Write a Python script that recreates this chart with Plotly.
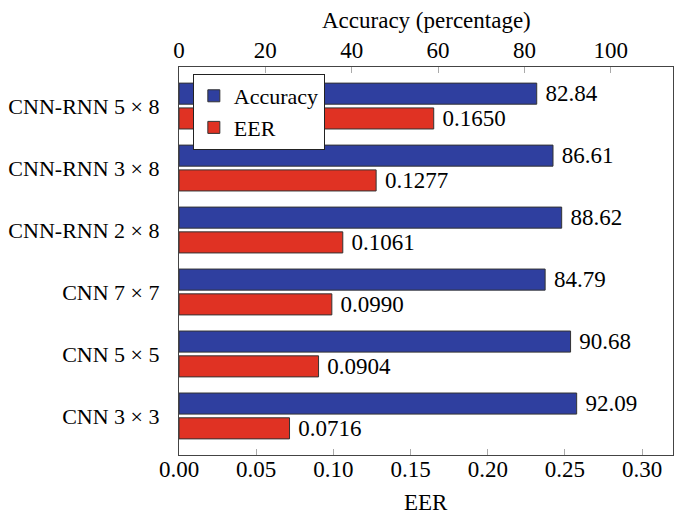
import plotly.graph_objects as go

models = ["CNN-RNN 5 × 8", "CNN-RNN 3 × 8", "CNN-RNN 2 × 8", "CNN 7 × 7", "CNN 5 × 5", "CNN 3 × 3"]
accuracy = [82.84, 86.61, 88.62, 84.79, 90.68, 92.09]
eer = [0.1650, 0.1277, 0.1061, 0.0990, 0.0904, 0.0716]
acc_ticks = [0, 20, 40, 60, 80, 100]
eer_ticks = [0.00, 0.05, 0.10, 0.15, 0.20, 0.25, 0.30]
acc_title = "Accuracy (percentage)"
eer_title = "EER"

pos = list(range(len(models)))
FONT = "Liberation Serif, Times New Roman, serif"
FS = 23
BLUE = "#2f3f9f"
RED = "#e03223"
EDGE = "#333333"

fig = go.Figure()
fig.add_trace(go.Bar(
    y=pos, x=accuracy, orientation="h", name="Accuracy", xaxis="x2",
    width=0.34, offset=-0.37,
    marker=dict(color=BLUE, line=dict(color=EDGE, width=1)),
    text=[" %.2f" % v for v in accuracy], textposition="outside",
    constraintext="none",
    textfont=dict(family=FONT, size=FS, color="black"), cliponaxis=False,
))
fig.add_trace(go.Bar(
    y=pos, x=eer, orientation="h", name="EER", xaxis="x",
    width=0.34, offset=0.03,
    marker=dict(color=RED, line=dict(color=EDGE, width=1)),
    text=[" %.4f" % v for v in eer], textposition="outside",
    constraintext="none",
    textfont=dict(family=FONT, size=FS, color="black"), cliponaxis=False,
))

fig.update_layout(
    width=677, height=511,
    margin=dict(l=171, r=12, t=59, b=64),
    paper_bgcolor="white", plot_bgcolor="white",
    font=dict(family=FONT, size=FS, color="black"),
    barmode="overlay",
    showlegend=True,
    legend=dict(x=0.028, y=0.982, xanchor="left", yanchor="top",
                bordercolor="#222222", borderwidth=1, bgcolor="white",
                font=dict(family=FONT, size=22), traceorder="normal",
                itemwidth=30, tracegroupgap=0),
    xaxis=dict(range=[0, 0.32], tickvals=eer_ticks,
               ticktext=["%.2f" % v for v in eer_ticks],
               ticks="inside", ticklen=6, tickcolor="#aaaaaa",
               showline=True, linecolor="#444444", linewidth=1.2, mirror=True,
               showgrid=False, zeroline=False, automargin=False,
               ticklabelstandoff=-7),
    xaxis2=dict(range=[0, 114.4], tickvals=acc_ticks,
                ticktext=[str(v) for v in acc_ticks],
                overlaying="x", side="top", anchor="y",
                ticks="inside", ticklen=6, tickcolor="#aaaaaa",
                showline=False, showgrid=False, zeroline=False, automargin=False,
                ticklabelstandoff=3),
    yaxis=dict(range=[5.63, -0.63], tickvals=pos, ticktext=models,
               tickfont=dict(family=FONT, size=22),
               showline=True, linecolor="#444444", linewidth=1.2, mirror=True,
               showgrid=False, zeroline=False, ticks="", automargin=False,
               ticklabelstandoff=14),
    annotations=[
        dict(text=acc_title, xref="paper", yref="paper", x=0.5, y=1.1198,
             xanchor="center", yanchor="middle", showarrow=False,
             font=dict(family=FONT, size=FS, color="black")),
        dict(text=eer_title, xref="paper", yref="paper", x=0.5, y=-0.1237,
             xanchor="center", yanchor="middle", showarrow=False,
             font=dict(family=FONT, size=FS, color="black")),
    ],
)

fig.write_html("out.html")
